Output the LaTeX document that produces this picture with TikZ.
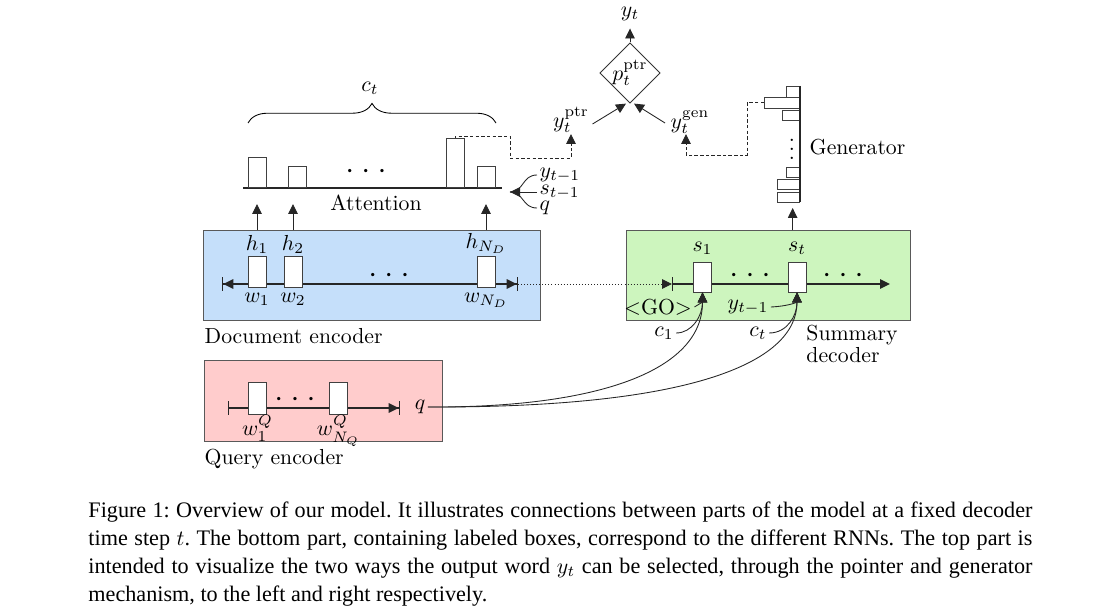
\documentclass[tikz,border=0pt]{standalone}
\usepackage{fontspec}
\newfontfamily\capfont{Liberation Serif}
\usetikzlibrary{positioning,calc,shapes.geometric,arrows.meta,decorations.pathreplacing}
\definecolor{encblue}{RGB}{197,223,250}
\definecolor{decgreen}{RGB}{205,245,190}
\definecolor{qpink}{RGB}{255,204,204}
\tikzset{rnnpanel/.style={draw=black!65, anchor=north west, inner sep=0pt}}
\tikzset{cellbox/.style={draw=black!75, fill=white, minimum width=18*0.46pt, minimum height=31*0.46pt, inner sep=0pt}}
\tikzset{attbar/.style={draw=black!75, fill=white, anchor=south, minimum width=18*0.46pt, inner sep=0pt}}
\tikzset{genbar/.style={draw=black!75, fill=white, anchor=east, inner sep=0pt}}
\tikzset{lbl/.style={inner sep=1pt}}
\tikzset{arr/.style={-{Triangle[width=4.4pt,length=4.6pt]}, black!85}}
\tikzset{encline/.style={black!85, semithick}}
\tikzset{dotline/.style={dash pattern=on 1.6pt off 1pt, black!85}}
\newcommand{\hdotz}{${\boldsymbol\cdot}\hspace{4.2pt}{\boldsymbol\cdot}\hspace{4.2pt}{\boldsymbol\cdot}$}
\usepackage{amsmath}

\begin{document}
\begin{tikzpicture}[x=0.46pt, y=-0.46pt]
\useasboundingbox (0,0) rectangle (1099,613);
%
% document encoder
\node[rnnpanel, fill=encblue, minimum width=337*0.46pt, minimum height=90*0.46pt] (denc) at (203,230) {};
\coordinate (dl) at (222,284);
\coordinate (dr) at (518,284);
\draw[encline, {Bar[width=6pt]Triangle[width=4.4pt,length=4.6pt]}-{Triangle[width=4.4pt,length=4.6pt]Bar[width=6pt]}] (dl) -- (dr);
\node[cellbox] (h1) at (257,272) {};
\node[cellbox] (h2) at (293,272) {};
\node[cellbox] (hN) at (486,272) {};
\node (ddots) at (389,275) {\hdotz};
\node[lbl, above=0pt of h1] (h1t) {$h_1$};
\node[lbl, above=0pt of h2] (h2t) {$h_2$};
\node[lbl, above=0pt of hN] (hNt) {$h_{N_D}$};
\node[lbl, below=1pt of h1] (w1t) {$w_1$};
\node[lbl, below=1pt of h2] (w2t) {$w_2$};
\node[lbl, below=1pt of hN] (wNt) {$w_{N_D}$};
\node[anchor=west] (dtxt) at (197,336) {Document encoder};
%
% attention
\coordinate (attl) at (243,188);
\coordinate (attr) at (502,188);
\draw[encline] (attl) -- (attr);
\node[attbar, minimum height=30*0.46pt] (a1) at (257.5,188) {};
\node[attbar, minimum height=21*0.46pt] (a2) at (297.5,188) {};
\node[attbar, minimum height=49*0.46pt] (a3) at (455,188) {};
\node[attbar, minimum height=21*0.46pt] (a4) at (486.5,188) {};
\node (adots) at (366,171) {\hdotz};
\node (atxt) at (376,203) {Attention};
\draw[decorate, decoration={brace, amplitude=9pt}] (248,123) -- (496,123);
\node (ctop) at (370,88) {$c_t$};
\foreach \c in {h1,h2,hN}
  \draw[arr] (\c |- denc.north) -- ++(0,-26);
%
\node[lbl, anchor=west] (yprev) at (537,175) {$y_{t-1}$};
\node[lbl, anchor=west] (sprev) at (537,192) {$s_{t-1}$};
\node[lbl, anchor=west] (qin) at (537,208) {$q$};
\coordinate (attin) at (510,192);
\draw[black!85] (yprev.west) .. controls (522,175) and (524,192) .. (attin);
\draw[black!85] (qin.west) .. controls (522,208) and (524,192) .. (attin);
\draw[arr] (sprev.west) -- (attin);
%
% pointer / generator switch
\node[diamond, draw=black!80, inner sep=0pt, minimum width=54*0.46pt, minimum height=52*0.46pt] (mix) at (630,73) {$p_t^{\mathrm{ptr}}$};
\node (yout) at (630,14) {$y_t$};
\draw[arr] (mix.north) -- (yout.south);
\node (yptr) at (571,120) {$y_t^{\mathrm{ptr}}$};
\node (ygen) at (690,122) {$y_t^{\mathrm{gen}}$};
\coordinate (ptrtip) at (571,134);
\coordinate (gentip) at (686,134);
\draw[arr] ($(yptr.east)+(-4,4)$) -- ($(mix.south)+(-4,0)$);
\draw[arr] ($(ygen.west)+(2,1)$) -- ($(mix.south)+(4,0)$);
\draw[dotline] (a3.north) -- ++(0,-2) -| (510,158);
\draw[dotline, arr] (510,158) -| (ptrtip);
%
% generator
\node[genbar, minimum width=13*0.46pt, minimum height=11*0.46pt] (g1) at (800,91.5) {};
\node[genbar, minimum width=35*0.46pt, minimum height=11*0.46pt] (g2) at (800,102.5) {};
\node[genbar, minimum width=17*0.46pt, minimum height=10*0.46pt] (g3) at (800,115) {};
\node[genbar, minimum width=13*0.46pt, minimum height=10*0.46pt] (g4) at (800,172) {};
\node[genbar, minimum width=22*0.46pt, minimum height=10*0.46pt] (g5) at (800,184.5) {};
\node[genbar, minimum width=22*0.46pt, minimum height=10*0.46pt] (g6) at (800,197) {};
\draw[black!85, line width=1pt] (800,86) -- (800,202);
\node[inner sep=0pt] (gdots) at (792,143) {$\vdots$};
\node[anchor=west] (gtxt) at (802,147) {Generator};
\draw[dotline, arr] (g2.west) -| (747,155) -| (gentip);
%
% summary decoder
\node[rnnpanel, fill=decgreen, minimum width=284*0.46pt, minimum height=90*0.46pt] (ddec) at (626,230) {};
\coordinate (gl) at (672,284);
\coordinate (gr) at (890,284);
\draw[densely dotted, black!85, -{Triangle[width=4.4pt,length=4.6pt]}] (dr) -- (gl);
\draw[encline, {Bar[width=6pt]}-{Triangle[width=4.4pt,length=4.6pt]}] (gl) -- (gr);
\node[cellbox, minimum height=30*0.46pt] (s1) at (702.5,277) {};
\node[cellbox, minimum height=30*0.46pt] (st) at (797,277) {};
\node (sdots1) at (750,275) {\hdotz};
\node (sdots2) at (843,275) {\hdotz};
\node[lbl, above=2pt of s1] (s1t) {$s_1$};
\node[lbl, above=2pt of st] (stt) {$s_t$};
\draw[arr] ([xshift=-2pt]st |- ddec.north) -- ++(0,-22);
\node[lbl] (go) at (658,307) {\textless GO\textgreater};
\node[lbl] (yprev2) at (748,307) {$y_{t-1}$};
\node[lbl] (c1) at (664,333) {$c_1$};
\node[lbl] (ct) at (758,333) {$c_t$};
\node[anchor=north west, align=left, inner sep=0pt] (stxt) at (806,325) {Summary\\[-2pt]decoder};
%
% query encoder
\node[rnnpanel, fill=qpink, minimum width=238*0.46pt, minimum height=81*0.46pt] (qenc) at (204,360) {};
\coordinate (ql) at (228,408);
\coordinate (qr) at (400,408);
\draw[encline, {Bar[width=6pt]}-{Triangle[width=4.4pt,length=4.6pt]Bar[width=6pt]}] (ql) -- (qr);
\node[cellbox, minimum height=32*0.46pt] (q1) at (257.5,398) {};
\node[cellbox, minimum height=32*0.46pt] (qN) at (338.5,398) {};
\node (qdots) at (295,399) {\hdotz};
\node[lbl, below=-1pt of q1] (q1t) {$w_1^Q$};
\node[lbl, below=-1pt of qN] (qNt) {$w_{N_Q}^Q$};
\node[lbl] (qout) at (420,407) {$q$};
\node[anchor=west] (qtxt) at (197,459) {Query encoder};
%
% inputs of the decoder cells
\draw[arr] (go.east) .. controls (696,306) and (702.5,302) .. (s1.south);
\draw[arr] (c1.east) .. controls (692,333) and (702.5,316) .. (s1.south);
\draw[arr] (qout.east) .. controls (600,408) and (702.5,370) .. (s1.south);
\draw[arr] (yprev2.east) .. controls (790,306) and (797,302) .. (st.south);
\draw[arr] (ct.east) .. controls (787,333) and (797,316) .. (st.south);
\draw[arr] (qout.east) .. controls (700,408) and (797,360) .. (st.south);
%
% caption
\node[anchor=north west, text width=944*0.46pt, align=justify, inner sep=0pt,
  font=\capfont\fontsize{10.2}{12.9}\selectfont] (cap) at (88,501) {\frenchspacing Figure 1: Overview of our model. It illustrates connections between parts of the model at a fixed decoder\linebreak time step $t$. The bottom part, containing labeled boxes, correspond to the different RNNs. The top part is\linebreak intended to visualize the two ways the output word $y_t$ can be selected, through the pointer and generator\linebreak mechanism, to the left and right respectively.};
\end{tikzpicture}
\end{document}
